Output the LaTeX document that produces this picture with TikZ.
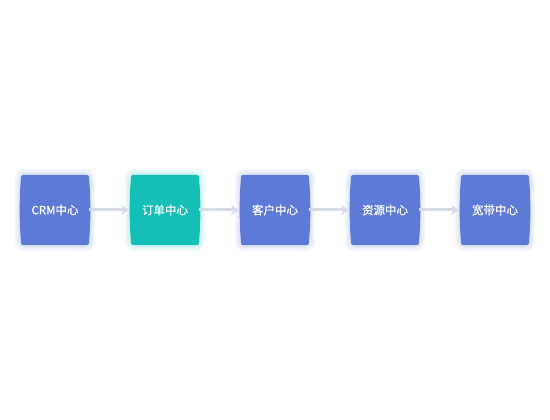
\documentclass[tikz,border=0pt]{standalone}
\usepackage{fontspec}
\setmainfont{Noto Sans CJK SC}
\newfontfamily\boxfont[FakeBold=0.7]{Noto Sans CJK SC}
\usetikzlibrary{arrows.meta,backgrounds}
\definecolor{boxblue}{RGB}{92,122,214}
\definecolor{boxteal}{RGB}{20,191,182}
\definecolor{linkgray}{RGB}{216,220,234}
\begin{document}
\begin{tikzpicture}[
    x=1pt, y=-1pt,
    box/.style={rectangle, inner sep=0pt, minimum width=68pt, minimum height=70pt, text=white, font=\boxfont\fontsize{11.5}{13}\selectfont},
    arrow/.style={-{Stealth[length=8pt,width=11pt,inset=3pt]}, line width=3pt, linkgray, shorten >=2pt},
]
\useasboundingbox (0,0) rectangle (550,420);

% Centres
\node[box] (crm) at (55, 210) {CRM中心};
\node[box] (order) at (165, 210) {订单中心};
\node[box] (cust) at (275, 210) {客户中心};
\node[box] (res) at (385, 210) {资源中心};
\node[box] (band) at (495, 210) {宽带中心};

% Box shapes with glow
\begin{scope}[on background layer]
\foreach \n/\c in {crm/boxblue, order/boxteal, cust/boxblue, res/boxblue, band/boxblue} {
    \foreach \g in {6,4.5,3,1.5}
        \fill[\c, opacity=0.06, rounded corners=9pt] ([xshift=-\g pt, yshift=\g pt]\n.north west) rectangle ([xshift=\g pt, yshift=-\g pt]\n.south east);
    \fill[\c] ([xshift=6pt]\n.north west) -- ([xshift=-6pt]\n.north east)
        .. controls (\n.north east) .. ([yshift=-6pt]\n.north east)
        .. controls ([xshift=1.5pt, yshift=-22pt]\n.north east) and ([xshift=1.5pt, yshift=22pt]\n.south east) .. ([yshift=6pt]\n.south east)
        .. controls (\n.south east) .. ([xshift=-6pt]\n.south east)
        -- ([xshift=6pt]\n.south west)
        .. controls (\n.south west) .. ([yshift=6pt]\n.south west)
        .. controls ([xshift=-1.5pt, yshift=22pt]\n.south west) and ([xshift=-1.5pt, yshift=-22pt]\n.north west) .. ([yshift=-6pt]\n.north west)
        .. controls (\n.north west) .. cycle;
}
\end{scope}

% Arrows
\draw[arrow] (crm) -- (order);
\draw[arrow] (order) -- (cust);
\draw[arrow] (cust) -- (res);
\draw[arrow] (res) -- (band);
\end{tikzpicture}
\end{document}
